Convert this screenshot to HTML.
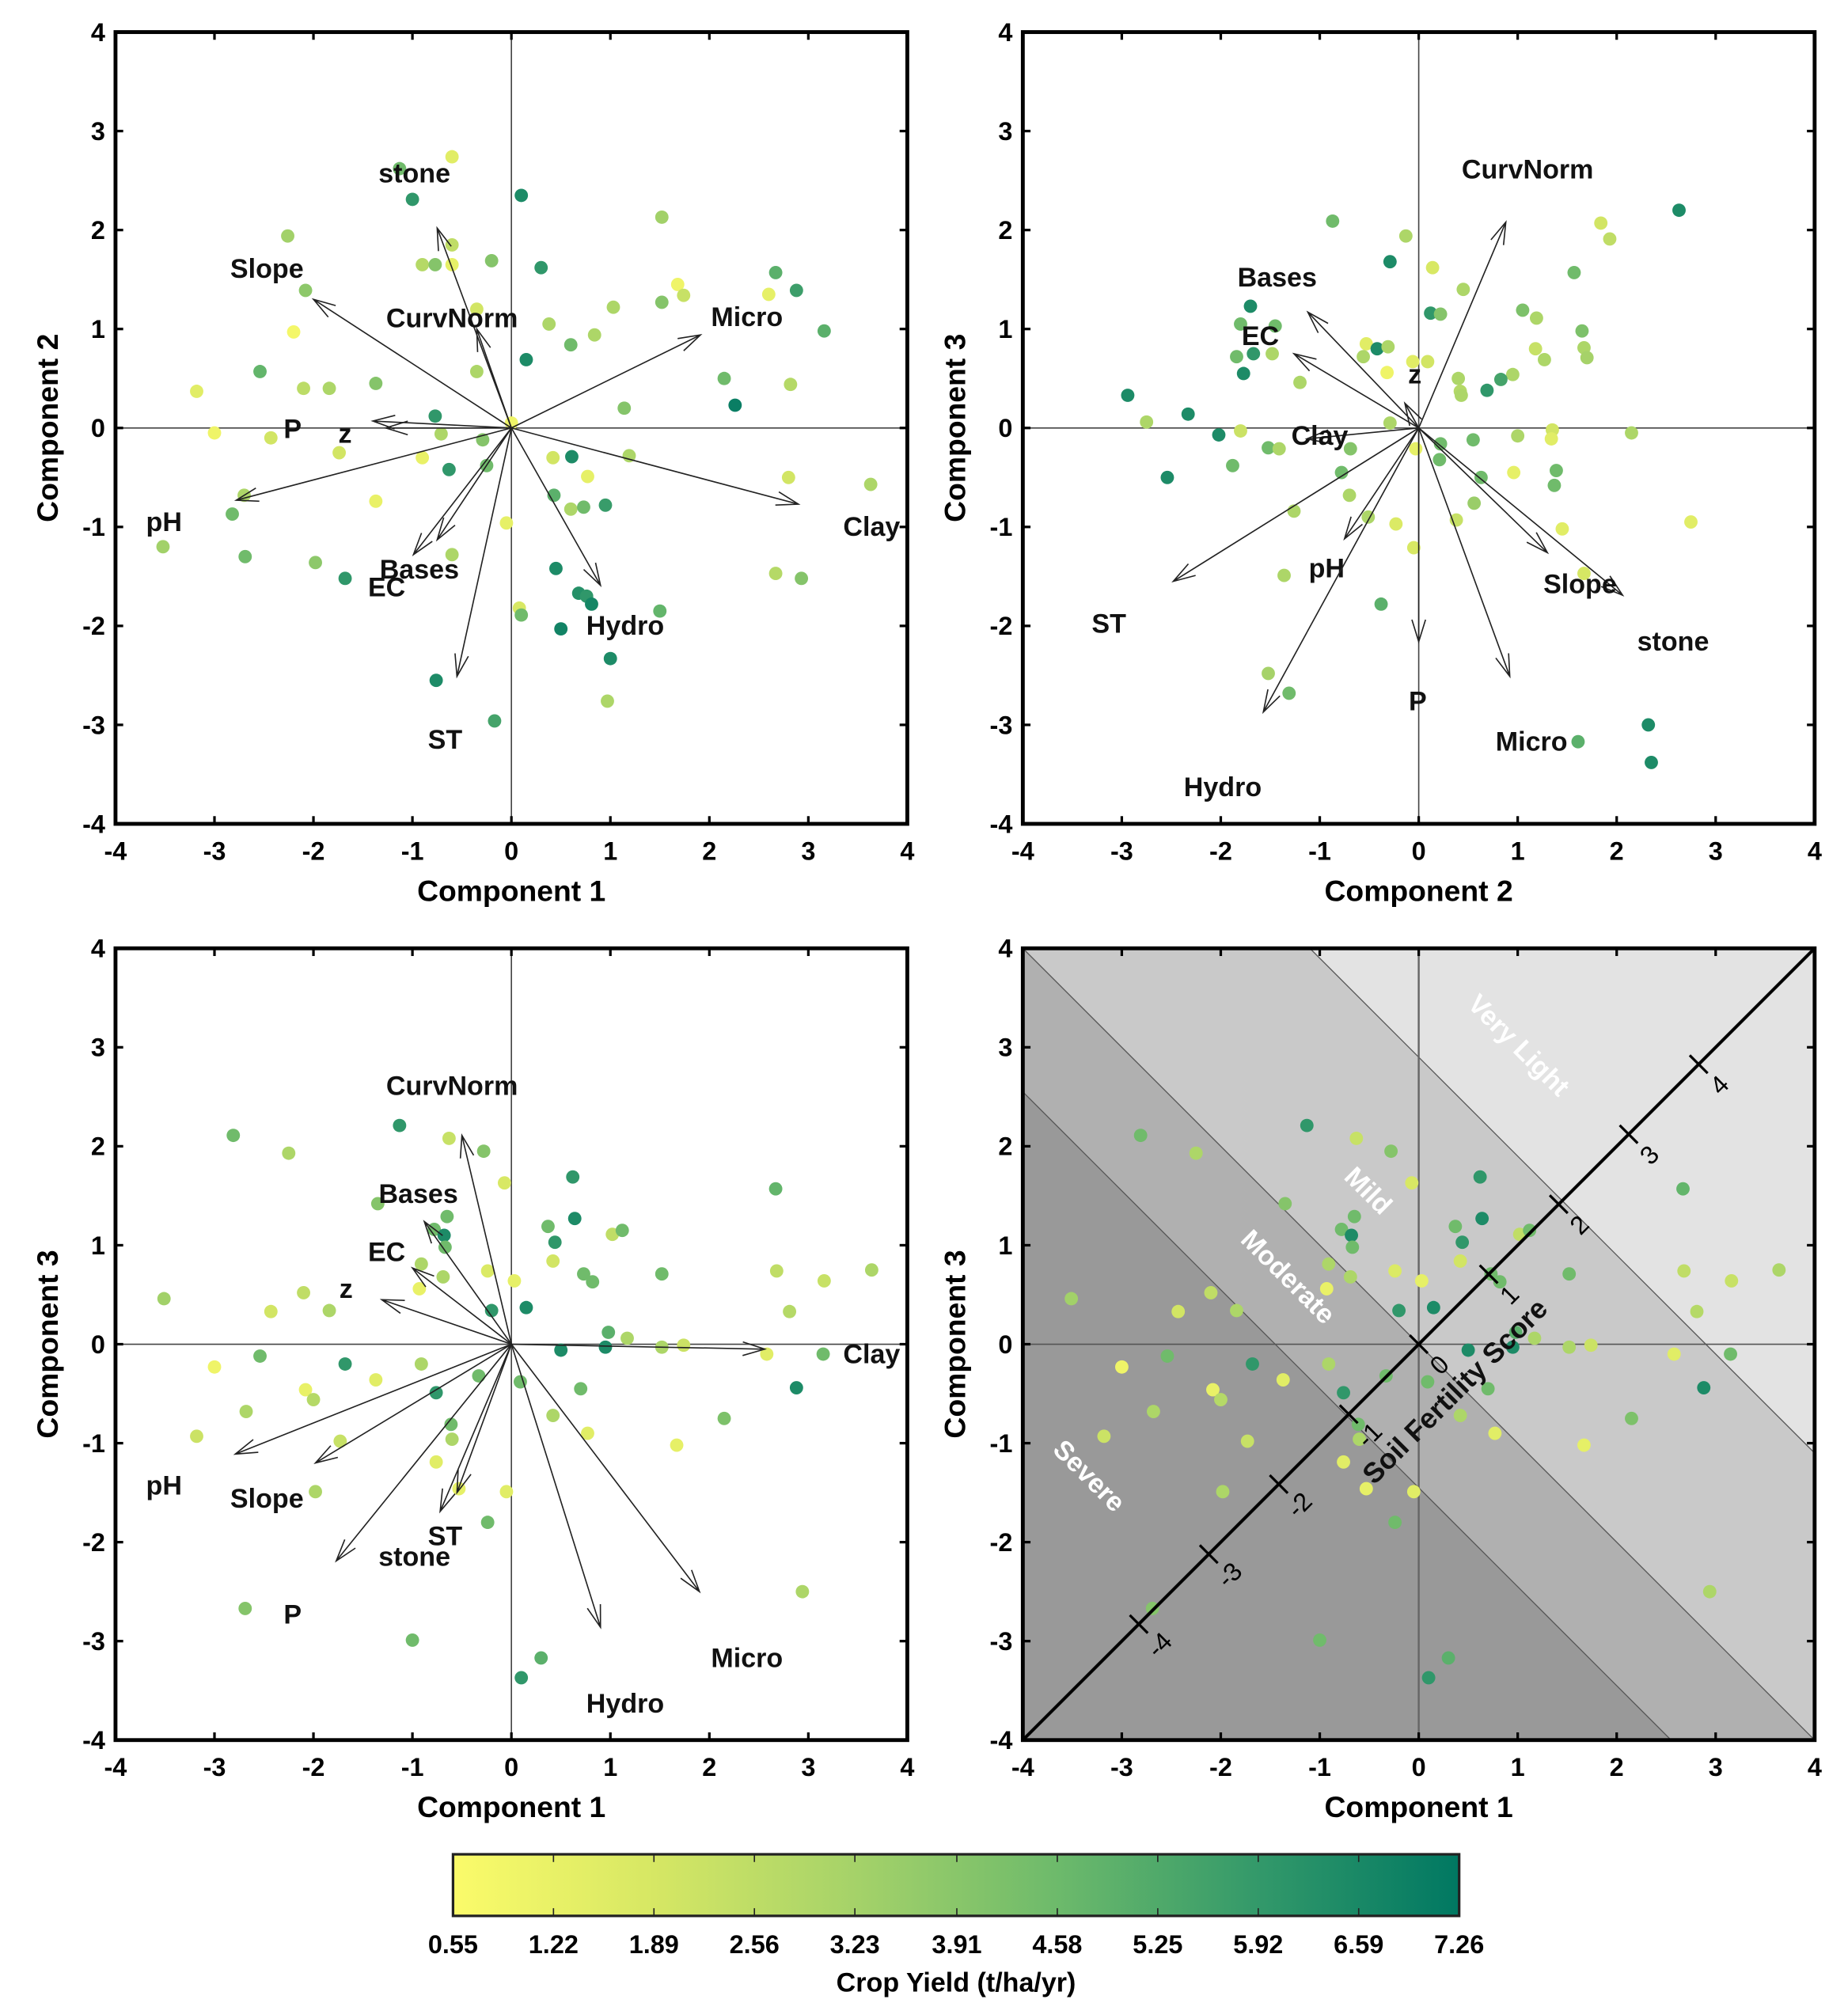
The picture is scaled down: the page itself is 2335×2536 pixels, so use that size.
<!DOCTYPE html>
<html><head><meta charset="utf-8"><style>
html,body{margin:0;padding:0;background:#fff;width:2335px;height:2536px;overflow:hidden;}
svg{display:block;font-family:"Liberation Sans",Arial,sans-serif;}
</style></head><body>
<svg id="fig" width="2335" height="2536" viewBox="0 0 1440 1564" preserveAspectRatio="none" xmlns="http://www.w3.org/2000/svg">
<defs>
<linearGradient id="cbgrad" x1="0" x2="1" y1="0" y2="0">
<stop offset="0" stop-color="#fbfb6a"/><stop offset="0.2" stop-color="#d6e764"/><stop offset="0.4" stop-color="#a5d269"/>
<stop offset="0.6" stop-color="#6dba6b"/><stop offset="0.8" stop-color="#33996a"/><stop offset="1" stop-color="#007862"/>
</linearGradient>
</defs>
</svg>
<script>
// ---------- data ----------
const p1x=[-0.6,-1.13,-1.0,0.1,-2.26,-2.08,-0.9,-0.77,-0.6,-0.6,-0.2,0.3,1.52,1.68,1.74,2.6,2.67,2.88,3.16,-2.2,-0.35,0.38,0.84,0.6,0.15,1.03,1.52,2.15,2.26,2.82,1.14,-3.18,-2.54,-2.1,-1.84,-1.37,-0.35,-3.0,-2.43,-1.74,-0.77,-0.71,-0.9,-0.29,-0.63,-0.25,0,0.42,0.61,1.19,-1.37,-2.82,-2.7,-3.52,-2.69,-1.98,-1.68,-0.6,-0.05,0.43,0.6,0.73,0.77,0.95,0.45,0.68,0.76,0.81,0.08,0.1,0.5,1.0,1.5,0.97,-0.76,-0.17,2.67,2.93,2.8,3.63];
const p1y=[2.74,2.62,2.31,2.35,1.94,1.39,1.65,1.65,1.85,1.65,1.69,1.62,2.13,1.45,1.34,1.35,1.57,1.39,0.98,0.97,1.2,1.05,0.94,0.84,0.69,1.22,1.27,0.5,0.23,0.44,0.2,0.37,0.57,0.4,0.4,0.45,0.57,-0.05,-0.1,-0.25,0.12,-0.06,-0.3,-0.12,-0.42,-0.38,0.05,-0.3,-0.29,-0.28,-0.74,-0.87,-0.68,-1.2,-1.3,-1.36,-1.52,-1.28,-0.96,-0.68,-0.82,-0.8,-0.49,-0.78,-1.42,-1.67,-1.7,-1.78,-1.82,-1.89,-2.03,-2.33,-1.85,-2.76,-2.55,-2.96,-1.47,-1.52,-0.5,-0.57];
const p1v=[1.5,4.5,6,6.5,3.3,3.8,2.8,4,2.5,1.3,4,6,3.3,1,2.3,1.3,5,5.7,5,0.8,2,3,3,4.5,6.5,3,4,4.5,7,2.8,4,1.5,4.8,2.6,3,4,3,1,2,2,6,3,1.2,4,6,4.5,1,2,6.5,3,1.2,4.5,3,3.3,4.5,3.8,6,3,1.3,5,3,4.5,1.3,5.8,6.5,6.3,6,6.7,1.8,4.5,6.8,6.5,4.8,3,6.5,5.5,2.8,4,2,3];

const p2x=[2.63,-0.87,-0.13,-0.29,0.14,1.84,1.93,1.57,-1.7,0.45,0.12,0.22,1.05,1.19,1.65,1.67,1.7,1.18,1.27,0.95,0.83,0.69,0.4,0.42,0.43,-0.53,-0.42,-0.31,-0.56,-0.32,-0.06,0.09,-1.8,-1.45,-1.84,-1.67,-1.48,-1.77,-1.2,-2.94,-2.75,-2.33,-2.02,-1.8,-1.52,-1.41,-2.54,-1.88,-0.69,-0.78,-0.7,-0.29,-0.03,0.22,0.21,0.55,1.0,1.35,1.34,2.15,0.96,1.39,1.37,0.63,0.56,0.38,-0.23,-0.51,-1.26,-0.05,1.45,1.67,-1.36,2.75,-0.38,-1.52,-1.31,1.61,2.32,2.35];
const p2y=[2.2,2.09,1.94,1.68,1.62,2.07,1.91,1.57,1.23,1.4,1.16,1.15,1.19,1.11,0.98,0.81,0.71,0.8,0.69,0.54,0.49,0.38,0.5,0.37,0.33,0.85,0.8,0.82,0.72,0.56,0.67,0.67,1.05,1.03,0.72,0.75,0.75,0.55,0.46,0.33,0.06,0.14,-0.07,-0.03,-0.2,-0.21,-0.5,-0.38,-0.21,-0.45,-0.68,0.05,-0.21,-0.16,-0.32,-0.12,-0.08,-0.02,-0.11,-0.05,-0.45,-0.43,-0.58,-0.5,-0.76,-0.93,-0.97,-0.9,-0.84,-1.21,-1.02,-1.47,-1.49,-0.95,-1.78,-2.48,-2.68,-3.17,-3.0,-3.38];
const p2v=[6.5,4.5,3,6.5,1.8,2,2.5,4.5,6.5,3,6,4,4.2,3,4.2,3,3.2,2.3,3,3,5.5,6,3,2.8,3,1.5,6.5,3,3,1,1.5,2,4.5,4.5,4.5,6,3,6.5,3,6.5,3,6.5,6.5,2.2,4.5,3,6.5,4.5,4,4.5,3,3,1.3,4.5,4.5,4.5,3,2,1.5,3,1.3,4.5,4.5,4.5,3.5,2.3,1.7,3,3,1.8,1.5,1.9,3,1.5,5,3.2,4.5,5,6.5,6.5];

const p3x=[-2.81,-2.25,-1.13,-0.63,-0.28,-0.07,-1.35,0.62,0.37,0.64,0.44,1.02,1.12,-0.65,-0.78,-0.68,-0.67,-0.91,-0.69,0.42,0.73,0.82,-0.24,0.03,-0.2,0.15,-0.93,1.52,2.67,2.68,3.16,3.64,2.81,-3.51,-2.43,-2.1,-1.84,0.98,1.17,0.5,0.95,1.52,1.74,2.58,3.15,-3.0,-2.54,-1.68,-0.91,-1.37,-0.33,0.09,0.7,-2.08,-2.0,-2.68,-3.18,-0.76,0.42,0.77,2.15,2.88,-1.73,-0.61,-0.6,-0.76,1.67,-1.98,-0.05,-0.53,-0.24,2.94,-2.69,-1.0,0.3,0.1];
const p3y=[2.11,1.93,2.21,2.08,1.95,1.63,1.42,1.69,1.19,1.27,1.03,1.11,1.15,1.29,1.16,1.1,0.98,0.81,0.68,0.84,0.71,0.63,0.74,0.64,0.34,0.37,0.56,0.71,1.57,0.74,0.64,0.75,0.33,0.46,0.33,0.52,0.34,0.12,0.06,-0.06,-0.03,-0.03,-0.01,-0.1,-0.1,-0.23,-0.12,-0.2,-0.2,-0.36,-0.32,-0.38,-0.45,-0.46,-0.56,-0.68,-0.93,-0.49,-0.72,-0.9,-0.75,-0.44,-0.98,-0.81,-0.96,-1.19,-1.02,-1.49,-1.49,-1.46,-1.8,-2.5,-2.67,-2.99,-3.17,-3.37];
const p3v=[4.5,3,6,2.3,4,1.8,4,6,4.5,6.5,6,2.5,4.5,4.5,4.5,6.5,4.5,3,3,2,4.5,4.5,1.7,1.3,6,6.5,1.2,4.5,4.8,2.5,2.3,3,2.8,3.3,2,2.5,3,5,3,6.5,6.5,3,2.2,1.5,4.5,1,4.5,6,3,1.5,4.5,4.5,4.5,1.2,2.8,3,2.2,6,3,1.5,4.2,6.5,2.3,4.5,3,1.5,1.3,3,1.5,1.3,4.5,3,4,4.5,5,6];

const varNames=["stone","Slope","CurvNorm","Micro","P","z","pH","Clay","Hydro","Bases","EC","ST"];
const a1x=[-0.75,-2.0,-0.35,1.91,-1.4,-1.27,-2.78,2.9,0.9,-0.99,-0.75,-0.55];
const a1y=[2.02,1.3,1.0,0.94,0.07,0,-0.73,-0.77,-1.59,-1.28,-1.13,-2.51];
const l1x=[-0.98,-2.47,-0.6,2.38,-2.21,-1.68,-3.51,3.64,1.15,-0.93,-1.26,-0.67];
const l1y=[2.57,1.61,1.11,1.12,-0.01,-0.06,-0.95,-1.0,-2.0,-1.43,-1.61,-3.15];

const a2x=[2.06,1.3,0.88,0.92,0,-0.14,-0.75,-1.13,-1.57,-1.12,-1.26,-2.48];
const a2y=[-1.69,-1.26,2.08,-2.51,-2.16,0.25,-1.12,-0.11,-2.87,1.17,0.75,-1.55];
const l2x=[2.57,1.63,1.1,1.14,-0.01,-0.04,-0.93,-1.0,-1.98,-1.43,-1.6,-3.13];
const l2y=[-2.16,-1.58,2.61,-3.17,-2.76,0.54,-1.42,-0.08,-3.63,1.52,0.93,-1.98];

const a3x=[-1.77,-1.98,-0.5,1.9,-0.55,-1.31,-2.79,2.56,0.9,-0.88,-1.0,-0.72];
const a3y=[-2.19,-1.2,2.11,-2.5,-1.5,0.45,-1.11,-0.05,-2.86,1.24,0.77,-1.69];
const l3x=[-0.98,-2.47,-0.6,2.38,-2.21,-1.67,-3.51,3.64,1.15,-0.94,-1.26,-0.67];
const l3y=[-2.15,-1.56,2.61,-3.17,-2.73,0.56,-1.43,-0.1,-3.63,1.52,0.93,-1.94];

const axisTicks=[-4,-3,-2,-1,0,1,2,3,4];
const bandBounds=[-1.45,0,2.9];
const bandColors=["#999999","#b0b0b0","#c9c9c9","#e3e3e3"];
const bandNames=["Severe","Moderate","Mild","Very Light"];
const bandLabelX=[-3.33,-1.32,-0.51,1.01];
const bandLabelY=[-1.33,0.68,1.55,3.02];
const scoreTicks=[-4,-3,-2,-1,0,1,2,3,4];
const cbTicks=[0.55,1.22,1.89,2.56,3.23,3.91,4.58,5.25,5.92,6.59,7.26];

// ---------- helpers ----------
const NS="http://www.w3.org/2000/svg";
const svg=document.getElementById('fig');
function mk(tag,attrs,parent){const e=document.createElementNS(NS,tag);for(const k in attrs)e.setAttribute(k,attrs[k]);(parent||svg).appendChild(e);return e;}
const stops=[[0.55,[251,251,106]],[1.89,[214,231,100]],[3.23,[165,210,105]],[4.58,[109,186,107]],[5.92,[51,153,106]],[7.26,[0,120,98]]];
function cmap(v){v=Math.max(0.55,Math.min(7.26,v));for(let i=0;i<stops.length-1;i++){const a=stops[i],b=stops[i+1];if(v<=b[0]){const t=(v-a[0])/(b[0]-a[0]);const c=a[1].map((x,j)=>Math.round(x+(b[1][j]-x)*t));return `rgb(${c[0]},${c[1]},${c[2]})`;}}return 'rgb(0,120,98)';}

const panels=[
 {L:90,T:25,name:'panel-c1-c2',xt:'Component 1',yt:'Component 2'},
 {L:797,T:25,name:'panel-c2-c3',xt:'Component 2',yt:'Component 3'},
 {L:90,T:739,name:'panel-c1-c3',xt:'Component 1',yt:'Component 3'},
 {L:797,T:739,name:'panel-fertility-score',xt:'Component 1',yt:'Component 3'}];
const W=617,U=W/8;
function sx(p,v){return p.L+(v+4)*U;}
function sy(p,v){return p.T+(4-v)*U;}

function drawFrame(p,g){
  let zl=mk('line',{x1:sx(p,0),x2:sx(p,0),y1:p.T,y2:p.T+W,stroke:'#444','stroke-width':1},g);
  
  
  zl=mk('line',{x1:p.L,x2:p.L+W,y1:sy(p,0),y2:sy(p,0),stroke:'#444','stroke-width':1},g);
  
  
}
function drawAxes(p,g){
  const box=mk('rect',{x:p.L,y:p.T,width:W,height:W,fill:'none',stroke:'#000','stroke-width':3},g);
  
  
  axisTicks.forEach(t=>{
    const x=sx(p,t),y=sy(p,t);
    mk('line',{x1:x,x2:x,y1:p.T+W,y2:p.T+W-6,stroke:'#000','stroke-width':2},g);
    mk('line',{x1:x,x2:x,y1:p.T,y2:p.T+6,stroke:'#000','stroke-width':2},g);
    mk('line',{x1:p.L,x2:p.L+6,y1:y,y2:y,stroke:'#000','stroke-width':2},g);
    mk('line',{x1:p.L+W,x2:p.L+W-6,y1:y,y2:y,stroke:'#000','stroke-width':2},g);
    const tx=mk('text',{x:x,y:p.T+W+28,'text-anchor':'middle','font-size':20,'font-weight':'bold'},g);tx.textContent=t;
    
    
    const ty=mk('text',{x:p.L-8,y:y+7,'text-anchor':'end','font-size':20,'font-weight':'bold'},g);ty.textContent=t;
    
    
  });
  const xt=mk('text',{x:p.L+W/2,y:p.T+W+60,'text-anchor':'middle','font-size':23,'font-weight':'bold'},g);xt.textContent=p.xt;
  
  
  const yx=p.L-45,yy=p.T+W/2;
  const yt=mk('text',{x:yx,y:yy,'text-anchor':'middle','font-size':23,'font-weight':'bold',transform:`rotate(-90 ${yx} ${yy})`},g);yt.textContent=p.yt;
  
  
}
function drawPoints(p,g,xs,ys,vs){
  for(let i=0;i<xs.length;i++){
    const c=mk('circle',{cx:sx(p,xs[i]),cy:sy(p,ys[i]),r:5.2,fill:cmap(vs[i])},g);
    
    
  }
}
function drawArrows(p,g,ax,ay,lx,ly){
  for(let i=0;i<varNames.length;i++){
    const x0=sx(p,0),y0=sy(p,0),x1=sx(p,ax[i]),y1=sy(p,ay[i]);
    const ang=Math.atan2(y1-y0,x1-x0),h=18,w=0.3;
    const d=`M${x0},${y0}L${x1},${y1}M${x1-h*Math.cos(ang-w)},${y1-h*Math.sin(ang-w)}L${x1},${y1}L${x1-h*Math.cos(ang+w)},${y1-h*Math.sin(ang+w)}`;
    const a=mk('path',{d:d,fill:'none',stroke:'#222','stroke-width':1},g);
    
    
    const t=mk('text',{x:sx(p,lx[i]),y:sy(p,ly[i])+7,'text-anchor':'middle','font-size':21,'font-weight':'bold',fill:'#111'},g);
    t.textContent=varNames[i];
    
    
  }
}

[[p1x,p1y,p1v,a1x,a1y,l1x,l1y],[p2x,p2y,p2v,a2x,a2y,l2x,l2y],[p3x,p3y,p3v,a3x,a3y,l3x,l3y]].forEach((d,k)=>{
  const p=panels[k];
  const g=mk('g',{});
  
  
  drawFrame(p,g);
  drawPoints(p,g,d[0],d[1],d[2]);
  drawArrows(p,g,d[3],d[4],d[5],d[6]);
  drawAxes(p,g);
});

// panel 4
(function(){
  const p=panels[3];
  const g=mk('g',{});
  
  
  mk('clipPath',{id:'clip4'},g).appendChild(mk('rect',{x:p.L,y:p.T,width:W,height:W}));
  const bg=mk('g',{'clip-path':'url(#clip4)'},g);
  const bounds=[-20].concat(bandBounds).concat([20]);
  for(let i=0;i<bandColors.length;i++){
    const a=bounds[i],b=bounds[i+1];
    const pts=[[a+10,-10],[-10,a+10],[-10,b+10],[b+10,-10]].map(q=>sx(p,q[0])+','+sy(p,q[1])).join(' ');
    const band=mk('polygon',{points:pts,fill:bandColors[i]},bg);
    
    
  }
  bandBounds.forEach(b=>{
    const ln=mk('line',{x1:sx(p,b+10),y1:sy(p,-10),x2:sx(p,-10),y2:sy(p,b+10),stroke:'#555','stroke-width':0.8},bg);
    
    
  });
  const zl1=mk('line',{x1:sx(p,0),x2:sx(p,0),y1:p.T,y2:p.T+W,stroke:'#666','stroke-width':1.5},bg);
  
  
  const zl2=mk('line',{x1:p.L,x2:p.L+W,y1:sy(p,0),y2:sy(p,0),stroke:'#555','stroke-width':1},bg);
  
  
  for(let i=0;i<bandNames.length;i++){
    const X=sx(p,bandLabelX[i]),Y=sy(p,bandLabelY[i]);
    const tx=mk('text',{x:X,y:Y+7,'text-anchor':'middle','font-size':21,'font-weight':'bold',fill:'#fff',transform:`rotate(45 ${X} ${Y})`},g);
    tx.textContent=bandNames[i];
    
    
  }
  drawPoints(p,g,p3x,p3y,p3v);
  const r2=Math.SQRT1_2;
  const ax=mk('line',{x1:sx(p,-4),y1:sy(p,-4),x2:sx(p,4),y2:sy(p,4),stroke:'#000','stroke-width':2.5},g);
  
  
  scoreTicks.forEach(s=>{
    const X=sx(p,s*r2),Y=sy(p,s*r2);
    mk('line',{x1:X-7,y1:Y-7,x2:X+7,y2:Y+7,stroke:'#000','stroke-width':2},g);
    const lx=X+16,ly=Y+16;
    const t=mk('text',{x:lx,y:ly+7,'text-anchor':'middle','font-size':20,fill:'#000',transform:`rotate(-45 ${lx} ${ly})`},g);
    t.textContent=s;
    
    
  });
  const SX=sx(p,0.37),SY=sy(p,-0.48);
  const st=mk('text',{x:SX,y:SY+7,'text-anchor':'middle','font-size':22,'font-weight':'bold',fill:'#111',transform:`rotate(-45 ${SX} ${SY})`},g);
  st.textContent='Soil Fertility Score';
  
  
  drawAxes(p,g);
})();

// colorbar
(function(){
  const L=353,R=1137,T=1445,B=1493;
  const g=mk('g',{});
  
  
  const r=mk('rect',{x:L,y:T,width:R-L,height:B-T,fill:'url(#cbgrad)',stroke:'#222','stroke-width':2},g);
  
  
  cbTicks.forEach(v=>{
    const x=L+(v-0.55)/(7.26-0.55)*(R-L);
    mk('line',{x1:x,x2:x,y1:T,y2:T+6,stroke:'#222','stroke-width':1},g);
    mk('line',{x1:x,x2:x,y1:B,y2:B-6,stroke:'#222','stroke-width':1},g);
    const t=mk('text',{x:x,y:1522,'text-anchor':'middle','font-size':20,'font-weight':'bold'},g);
    t.textContent=v.toFixed(2);
    
    
  });
  const tt=mk('text',{x:(L+R)/2,y:1552,'text-anchor':'middle','font-size':21,'font-weight':'bold'},g);
  tt.textContent='Crop Yield (t/ha/yr)';
  
  
})();
</script>
</body></html>
